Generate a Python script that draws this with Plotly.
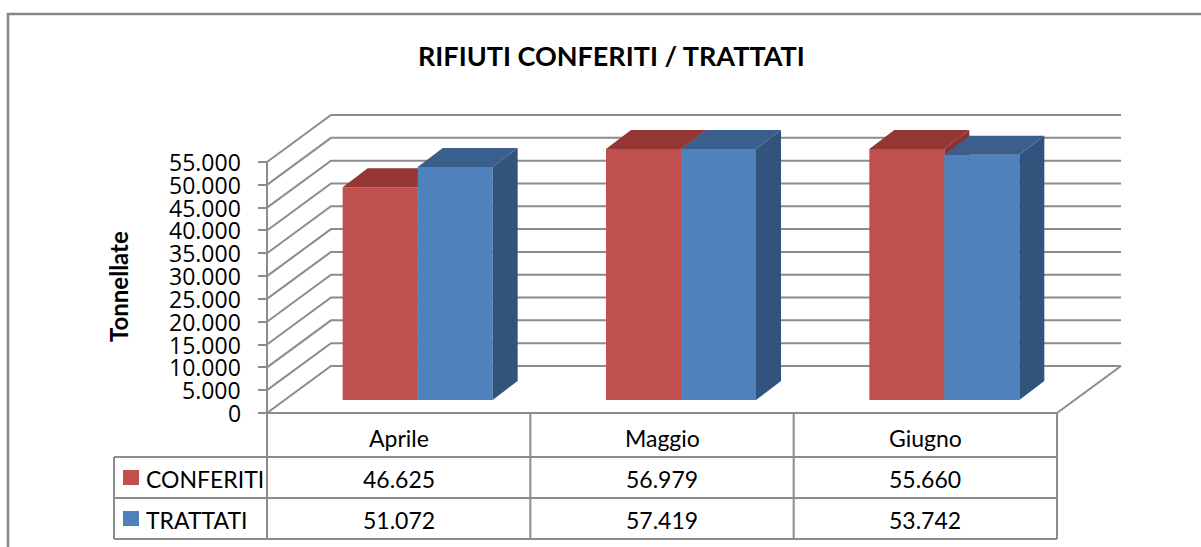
import numpy as np
import plotly.graph_objects as go

# ---------------- data ----------------
categories = ["Aprile", "Maggio", "Giugno"]
series_names = ["CONFERITI", "TRATTATI"]
conferiti = [46625, 56979, 55660]
trattati = [51072, 57419, 53742]
tick_values = list(range(0, 55001, 5000))
title_text = "RIFIUTI CONFERITI / TRATTATI"
y_title = "Tonnellate"

# ---------------- geometry / style ----------------
W, H = 1201, 547
AXIS_MAX = 55000
X0, X1 = 267, 1057          # front floor edge (px)
Y0, YTOP = 413, 162         # 0 and AXIS_MAX on the front axis (px)
n = len(categories)
ux = n / (X1 - X0)          # category units per px
uy = AXIS_MAX / (Y0 - YTOP) # value units per px

xr = [-0.5 - X0 * ux, -0.5 + (W - X0) * ux]
yr = [-(H - Y0) * uy, Y0 * uy]

wall_dx, wall_dy = 64 * ux, 47 * uy      # depth of walls
bar_sx, bar_sy = 19 * ux, 13 * uy        # bar plane shift
bar_dx, bar_dy = 25 * ux, 19 * uy        # bar depth
bw = 75 * ux                             # bar width

RED, RED_TOP, RED_SIDE = "#C0504D", "#943634", "#8A3230"
BLUE, BLUE_TOP, BLUE_SIDE = "#4F81BD", "#3A5F8D", "#32537C"
GRID = "#8C8C8C"
TEXT = "#000000"
FONT = "Lato"
TICK_FONT = "Open Sans"

idx = np.arange(n)
fig = go.Figure()

# back walls grid lines (base subplot)
gx, gy = [], []
for v in tick_values:
    gx += [-0.5, -0.5 + wall_dx, (n - 0.5) + wall_dx, None]
    gy += [v, v + wall_dy, v + wall_dy, None]
gx += [n - 0.5, n - 0.5 + wall_dx, None]
gy += [0, wall_dy, None]
gx += [-0.5, -0.5]
gy += [0, AXIS_MAX]
fig.add_trace(go.Scatter(x=gx, y=gy, mode="lines", line=dict(color=GRID, width=2),
                         hoverinfo="skip", showlegend=False, xaxis="x", yaxis="y"))


def add_series(values, left_off, front, top, side, xa, ya, name):
    h = np.minimum(np.array(values, dtype=float), AXIS_MAX)
    fig.add_trace(go.Bar(x=idx, y=h, width=bw, offset=left_off, name=name,
                         marker=dict(color=front, line=dict(width=0)),
                         xaxis=xa, yaxis=ya, showlegend=False,
                         hovertemplate="%{y}<extra>" + name + "</extra>"))
    sx, sy, tx, ty = [], [], [], []
    for i, hv in zip(idx, h):
        l = i + left_off
        r = l + bw
        sx += [r, r, r + bar_dx, r + bar_dx, r, None]
        sy += [0, hv, hv + bar_dy, bar_dy, 0, None]
        tx += [l, r, r + bar_dx, l + bar_dx, l, None]
        ty += [hv, hv, hv + bar_dy, hv + bar_dy, hv, None]
    fig.add_trace(go.Scatter(x=sx, y=sy, mode="lines", fill="toself", fillcolor=side,
                             line=dict(width=0, color=side), hoverinfo="skip",
                             showlegend=False, xaxis=xa, yaxis=ya))
    fig.add_trace(go.Scatter(x=tx, y=ty, mode="lines", fill="toself", fillcolor=top,
                             line=dict(width=0, color=top), hoverinfo="skip",
                             showlegend=False, xaxis=xa, yaxis=ya))


add_series(conferiti, -bw, RED, RED_TOP, RED_SIDE, "x2", "y2", series_names[0])
add_series(trattati, 0.0, BLUE, BLUE_TOP, BLUE_SIDE, "x3", "y3", series_names[1])

# ---------------- data table ----------------
def px(x):
    return x / W


def py(y):
    return 1 - y / H


ROW_Y = [413, 457, 498, 539]
LEG_X = 114
shapes = []
line = dict(color=GRID, width=2)
# horizontal lines
shapes.append(dict(type="line", xref="paper", yref="paper", x0=px(X0), x1=px(X1),
                   y0=py(ROW_Y[0]), y1=py(ROW_Y[0]), line=line))
for yv in ROW_Y[1:]:
    shapes.append(dict(type="line", xref="paper", yref="paper", x0=px(LEG_X), x1=px(X1),
                       y0=py(yv), y1=py(yv), line=line))
# vertical lines
shapes.append(dict(type="line", xref="paper", yref="paper", x0=px(LEG_X), x1=px(LEG_X),
                   y0=py(ROW_Y[1]), y1=py(ROW_Y[3]), line=line))
for k in range(n + 1):
    xv = X0 + (X1 - X0) * k / n
    shapes.append(dict(type="line", xref="paper", yref="paper", x0=px(xv), x1=px(xv),
                       y0=py(ROW_Y[0]), y1=py(ROW_Y[3]), line=line))
# legend keys
for r, col in enumerate([RED, BLUE]):
    yc = (ROW_Y[r + 1] + ROW_Y[r + 2]) / 2
    shapes.append(dict(type="rect", xref="paper", yref="paper", x0=px(123), x1=px(139),
                       y0=py(yc - 7.5), y1=py(yc + 7.5), fillcolor=col, line=dict(width=0)))
# outer chart border
shapes.append(dict(type="rect", xref="paper", yref="paper", x0=px(8), x1=px(1230),
                   y0=py(14), y1=py(580), line=dict(color="#878787", width=2.5),
                   fillcolor="rgba(0,0,0,0)", layer="below"))

annotations = []
TF = dict(family=FONT, size=23, color=TEXT)
hdr_y = py((ROW_Y[0] + ROW_Y[1]) / 2 + 3)
for i, c in enumerate(categories):
    annotations.append(dict(text=c, x=i, xref="x", y=hdr_y, yref="paper", showarrow=False,
                            xanchor="center", yanchor="middle", font=TF))
for r, (nm, vals) in enumerate(zip(series_names, [conferiti, trattati])):
    yc = py((ROW_Y[r + 1] + ROW_Y[r + 2]) / 2 + 1)
    annotations.append(dict(text=nm, x=px(144), xanchor="left", yanchor="middle", xref="paper",
                            y=yc, yref="paper", showarrow=False, font=TF))
    for i, v in enumerate(vals):
        annotations.append(dict(text=f"{v:,}".replace(",", "."), x=i, xref="x", y=yc, yref="paper",
                                xanchor="center", yanchor="middle", showarrow=False, font=TF))
# y tick labels
for v in tick_values:
    annotations.append(dict(text=f"{v:,}".replace(",", "."), x=px(243), xref="paper", y=v, yref="y",
                            xanchor="right", yanchor="middle", showarrow=False,
                            font=dict(family=TICK_FONT, size=23, color=TEXT)))
annotations.append(dict(text="<b>" + title_text + "</b>", x=px(611), y=py(55), xref="paper", yref="paper",
                        xanchor="center", yanchor="middle",
                        showarrow=False, font=dict(family=FONT, size=27, color=TEXT)))
annotations.append(dict(text="<b>" + y_title + "</b>", x=px(118), y=py(287), xref="paper", yref="paper",
                        xanchor="center", yanchor="middle",
                        textangle=-90, showarrow=False, font=dict(family=FONT, size=24, color=TEXT)))

hidden = dict(visible=False, showgrid=False, zeroline=False, fixedrange=True)
fig.update_layout(
    width=W, height=H, autosize=False,
    margin=dict(l=0, r=0, t=0, b=0),
    paper_bgcolor="white", plot_bgcolor="rgba(0,0,0,0)",
    separators=",.",
    showlegend=False,
    xaxis=dict(range=xr, domain=[0, 1], **hidden),
    yaxis=dict(range=yr, domain=[0, 1], anchor="free", position=px(X0),
               showgrid=False, zeroline=False, showline=False,
               tickmode="array", tickvals=tick_values, showticklabels=False,
               ticks="outside", ticklen=9, tickwidth=2, tickcolor=GRID, fixedrange=True),
    xaxis2=dict(range=[xr[0] - bar_sx, xr[1] - bar_sx], overlaying="x", anchor="y2", **hidden),
    yaxis2=dict(range=[yr[0] - bar_sy, yr[1] - bar_sy], overlaying="y", anchor="x2", **hidden),
    xaxis3=dict(range=[xr[0] - bar_sx, xr[1] - bar_sx], overlaying="x", anchor="y3", **hidden),
    yaxis3=dict(range=[yr[0] - bar_sy, yr[1] - bar_sy], overlaying="y", anchor="x3", **hidden),
    shapes=shapes, annotations=annotations,
)

fig.write_html("out.html", config={"displayModeBar": False},
               post_script="document.body.style.margin='0';document.body.style.overflow='hidden';")
